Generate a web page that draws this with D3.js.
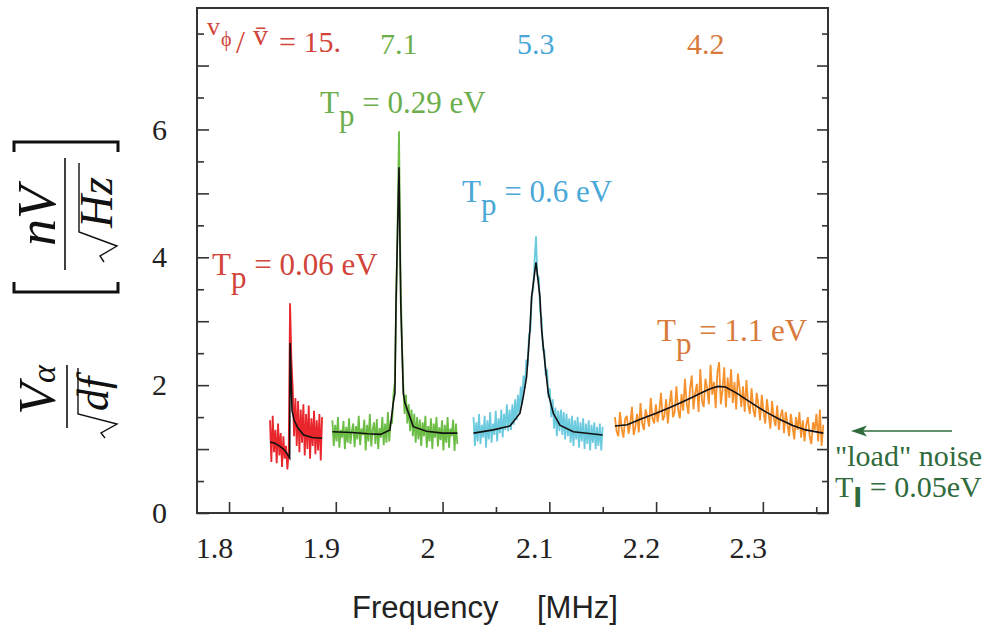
<!DOCTYPE html>
<html>
<head>
<meta charset="utf-8">
<script src="https://cdn.jsdelivr.net/npm/d3@7"></script>
<style>
  body { margin: 0; background: #fff; }
  svg text { font-family: "Liberation Serif", "Times New Roman", serif; white-space: pre; }
</style>
</head>
<body>
<div id="chart-container"></div>
<script>
// ---- values ----
var xMajorTicks = [1.8, 1.9, 2.0, 2.1, 2.2, 2.3];
var xTickLabels = ["1.8", "1.9", "2", "2.1", "2.2", "2.3"];
var xMinorTicks = [1.85, 1.95, 2.05, 2.15, 2.25, 2.35];
var yMajorTicks = [0, 1, 2, 3, 4, 5, 6, 7];
var yTickLabels = ["0", "", "2", "", "4", "", "6", ""];
var yMinorTicks = [0.5, 1.5, 2.5, 3.5, 4.5, 5.5, 6.5, 7.5];

// measured spectra: first frequency [MHz], bin width [MHz], amplitudes [nV/sqrt(Hz)]
var redStart = 1.8384, redStep = 0.00125;
var redNoise = [1.45,0.80,1.52,0.95,1.30,0.78,1.40,0.90,1.25,0.72,1.20,0.85,1.05,0.68,0.95,3.28,2.40,1.95,1.20,1.80,
                1.05,1.75,0.95,1.62,1.10,1.70,0.90,1.55,1.00,1.68,0.85,1.48,1.05,1.60,0.92,1.45,0.98,1.55,0.82,1.50];

var greenStart = 1.8968, greenStep = 0.0013;
var greenNoise = [1.45,1.05,1.38,1.12,1.50,1.02,1.30,1.18,1.44,1.00,1.35,1.10,1.48,1.08,1.28,1.40,1.03,1.36,1.15,1.52,
                  1.06,1.32,1.22,1.46,0.98,1.38,1.12,1.55,1.04,1.30,1.42,1.08,1.47,1.00,1.33,1.18,1.50,1.06,1.40,1.10,
                  1.58,1.12,1.44,1.40,1.85,2.05,3.30,4.60,5.97,3.90,2.75,2.05,1.55,1.85,1.40,1.70,1.28,1.62,1.20,1.55,
                  1.10,1.50,1.15,1.46,1.05,1.42,1.20,1.52,1.02,1.36,1.12,1.48,1.00,1.40,1.18,1.50,1.04,1.34,1.14,1.45,
                  0.98,1.38,1.10,1.50,1.02,1.32,1.20,1.46,0.97,1.40,1.08];

var cyanStart = 2.0290, cyanStep = 0.0013;
var cyanNoise = [1.50,1.05,1.42,1.12,1.55,1.08,1.38,1.18,1.52,1.02,1.45,1.15,1.58,1.10,1.40,1.22,1.60,1.12,1.48,1.25,
                 1.62,1.18,1.55,1.30,1.70,1.28,1.62,1.30,1.70,1.38,1.78,1.45,1.85,1.55,1.98,1.70,2.15,1.95,2.40,2.30,
                 2.80,2.85,3.40,3.50,3.95,4.33,3.70,3.70,3.15,3.05,2.55,2.55,2.15,2.25,1.80,1.95,1.50,1.78,1.32,1.65,
                 1.20,1.60,1.28,1.62,1.22,1.58,1.15,1.55,1.20,1.48,1.10,1.52,1.05,1.45,1.15,1.50,1.02,1.42,1.12,1.48,
                 1.00,1.40,1.08,1.45,0.98,1.38,1.10,1.42,1.00,1.35,1.05,1.40,0.98,1.35];

var orangeStart = 2.1614, orangeStep = 0.0016;
var orangeNoise = [1.50,1.28,1.20,1.58,1.32,1.18,1.47,1.52,1.24,1.40,1.66,1.22,1.35,1.55,1.26,1.72,1.40,1.30,1.62,1.50,
                   1.35,1.80,1.48,1.40,1.70,1.42,1.60,1.88,1.45,1.52,1.78,1.40,1.70,1.92,1.50,1.58,1.98,1.62,1.48,1.86,
                   1.60,2.10,1.72,1.55,1.95,2.15,1.62,1.88,2.02,1.58,2.25,1.75,1.66,2.10,1.95,1.70,2.32,1.85,2.05,1.64,
                   2.20,2.36,1.70,1.92,2.28,1.65,2.12,1.80,2.25,1.72,2.05,1.62,2.18,1.95,1.66,1.98,1.58,2.08,1.70,1.55,
                   1.95,1.62,1.50,1.88,1.70,1.45,1.85,1.58,1.40,1.78,1.55,1.32,1.75,1.48,1.36,1.68,1.30,1.52,1.62,1.25,
                   1.58,1.40,1.20,1.55,1.35,1.15,1.50,1.30,1.58,1.18,1.45,1.12,1.38,1.50,1.20,1.08,1.42,1.30,1.55,1.12,
                   1.62,1.05,1.38];

// fitted curves (black)
var redFitFreq = [1.8384,1.843,1.847,1.851,1.854,1.856,1.8568,1.8572,1.858,1.859,1.861,1.8645,1.870,1.878,1.8871];
var redFitValue = [1.11,1.09,1.05,1.00,0.94,0.88,0.86,2.66,2.20,1.60,1.45,1.33,1.22,1.18,1.17];
var greenFitFreq = [1.8968,1.915,1.930,1.942,1.9507,1.9538,1.9554,1.9564,1.9592,1.9608,1.9632,1.9648,1.9726,1.985,2.000,2.0138];
var greenFitValue = [1.27,1.26,1.24,1.23,1.30,1.72,1.88,3.30,5.41,3.30,1.88,1.72,1.35,1.28,1.25,1.25];
var cyanFitFreq = [2.0290,2.0475,2.0631,2.0725,2.0756,2.0787,2.0818,2.0834,2.0875,2.0912,2.0928,2.0959,2.0990,2.1037,2.1099,2.1224,2.1499];
var cyanFitValue = [1.25,1.30,1.36,1.56,1.82,2.13,2.86,3.38,3.92,3.38,2.86,2.34,1.87,1.56,1.375,1.27,1.22];
var orangeFitFreq = [2.1614,2.173,2.187,2.200,2.213,2.225,2.234,2.245,2.252,2.258,2.265,2.275,2.285,2.295,2.304,2.315,2.328,2.340,2.3566];
var orangeFitValue = [1.36,1.38,1.48,1.56,1.65,1.74,1.81,1.90,1.95,1.98,1.97,1.88,1.77,1.66,1.57,1.47,1.37,1.30,1.25];

// ---- chart ----
var margin = {top: 8, left: 197},
    width = 631,
    height = 505;

var svg = d3.select("#chart-container")
    .append("svg")
    .attr("width", 997)
    .attr("height", 630);

var plot = svg.append("g")
    .attr("transform", "translate(" + margin.left + "," + margin.top + ")");

var xScale = d3.scaleLinear().domain([1.770, 2.361]).range([0, width]);
var yScale = d3.scaleLinear().domain([0, 7.9]).range([height, 0]);

var segments = [
    {start: redStart, step: redStep, noise: redNoise, fitF: redFitFreq, fitV: redFitValue, color: "#e8262b"},
    {start: greenStart, step: greenStep, noise: greenNoise, fitF: greenFitFreq, fitV: greenFitValue, color: "#6cbd45"},
    {start: cyanStart, step: cyanStep, noise: cyanNoise, fitF: cyanFitFreq, fitV: cyanFitValue, color: "#6ccadf"},
    {start: orangeStart, step: orangeStep, noise: orangeNoise, fitF: orangeFitFreq, fitV: orangeFitValue, color: "#f6922e"}
];

var linesGroup = plot.append("g");

// noisy measured spectra
segments.forEach(function(s) {
    var noiseLine = d3.line()
        .x(function(d, i) { return xScale(s.start + i * s.step); })
        .y(function(d) { return yScale(d); });
    linesGroup.append("path")
        .datum(s.noise)
        .attr("fill", "none")
        .attr("stroke", s.color)
        .attr("stroke-width", 1.8)
        .attr("stroke-linejoin", "bevel")
        .attr("d", noiseLine);
});

// fits on top
segments.forEach(function(s) {
    var fitLine = d3.line()
        .x(function(d, i) { return xScale(s.fitF[i]); })
        .y(function(d) { return yScale(d); });
    linesGroup.append("path")
        .datum(s.fitV)
        .attr("fill", "none")
        .attr("stroke", "#111")
        .attr("stroke-width", 1.6)
        .attr("d", fitLine);
});

// axes, ticks pointing inward
function styleAxis(g) {
    g.select(".domain").remove();
    g.selectAll(".tick line").attr("stroke", "#333").attr("stroke-width", 1.6);
    g.selectAll(".tick text").attr("fill", "#222").style("font-size", "30px")
        .style("font-family", "'Liberation Serif', 'Times New Roman', serif");
}

plot.append("g")
    .attr("transform", "translate(0," + height + ")")
    .call(d3.axisBottom(xScale).tickValues(xMajorTicks).tickSize(-11).tickPadding(24)
        .tickFormat(function(d, i) { return xTickLabels[i]; }))
    .call(styleAxis)
    .selectAll(".tick text").attr("dx", -15);

plot.append("g")
    .attr("transform", "translate(0," + height + ")")
    .call(d3.axisBottom(xScale).tickValues(xMinorTicks).tickSize(-6).tickFormat(""))
    .call(styleAxis);

plot.append("g")
    .call(d3.axisLeft(yScale).tickValues(yMajorTicks).tickSize(-12).tickPadding(30)
        .tickFormat(function(d, i) { return yTickLabels[i]; }))
    .call(styleAxis);

plot.append("g")
    .call(d3.axisLeft(yScale).tickValues(yMinorTicks).tickSize(-7).tickFormat(""))
    .call(styleAxis);

plot.append("g")
    .attr("transform", "translate(" + width + ",0)")
    .call(d3.axisRight(yScale).tickValues(yMajorTicks).tickSize(-11).tickFormat(""))
    .call(styleAxis);

plot.append("g")
    .attr("transform", "translate(" + width + ",0)")
    .call(d3.axisRight(yScale).tickValues(yMinorTicks).tickSize(-6).tickFormat(""))
    .call(styleAxis);

// frame
plot.append("rect")
    .attr("width", width)
    .attr("height", height)
    .attr("fill", "none")
    .attr("stroke", "#333")
    .attr("stroke-width", 2);

// x axis title
svg.append("text")
    .attr("x", 352).attr("y", 618)
    .style("font-family", "'Liberation Sans', Arial, sans-serif")
    .style("font-size", "31px").attr("fill", "#222")
    .text("Frequency");
svg.append("text")
    .attr("x", 537).attr("y", 618)
    .style("font-family", "'Liberation Sans', Arial, sans-serif")
    .style("font-size", "31px").attr("fill", "#222")
    .text("[MHz]");

// y axis title, drawn rotated: V_alpha / sqrt(df)  [ nV / sqrt(Hz) ]
var yLab = svg.append("g").attr("transform", "rotate(-90)");
var ink = "#111";

var va = yLab.append("text").attr("x", -390).attr("y", 55).attr("text-anchor", "middle")
    .attr("fill", ink).style("font-style", "italic").style("font-size", "52px");
va.append("tspan").text("V");
va.append("tspan").style("font-size", "34px").text("α");
yLab.append("line").attr("x1", -428).attr("x2", -365).attr("y1", 67).attr("y2", 67)
    .attr("stroke", ink).attr("stroke-width", 1.6);
yLab.append("path").attr("d", "M-438,105 L-433,101 L-424,117 L-414,78 L-368,78")
    .attr("fill", "none").attr("stroke", ink).attr("stroke-width", 1.4);
yLab.append("text").attr("x", -411).attr("y", 108)
    .attr("fill", ink).style("font-style", "italic").style("font-size", "44px").text("df");

yLab.append("text").attr("x", -216).attr("y", 55).attr("text-anchor", "middle")
    .attr("fill", ink).style("font-style", "italic").style("font-size", "54px").text("nV");
yLab.append("line").attr("x1", -270).attr("x2", -158).attr("y1", 65).attr("y2", 65)
    .attr("stroke", ink).attr("stroke-width", 1.6);
yLab.append("path").attr("d", "M-262,104 L-256,100 L-246,117 L-232,79 L-163,79")
    .attr("fill", "none").attr("stroke", ink).attr("stroke-width", 1.4);
yLab.append("text").attr("x", -228).attr("y", 112)
    .attr("fill", ink).style("font-style", "italic").style("font-size", "46px").text("Hz");
yLab.append("path").attr("d", "M-282,14 L-292,14 L-292,118 L-282,118")
    .attr("fill", "none").attr("stroke", ink).attr("stroke-width", 3);
yLab.append("path").attr("d", "M-152,14 L-142,14 L-142,118 L-152,118")
    .attr("fill", "none").attr("stroke", ink).attr("stroke-width", 3);

// annotations
var redText = "#d2443a", greenText = "#6cae4c", cyanText = "#4aa8d8", orangeText = "#d77a3b", loadText = "#2f6b3c";

function tLabel(x, y, color, rest) {
    var t = svg.append("text").attr("x", x).attr("y", y).attr("fill", color).style("font-size", "31px");
    t.append("tspan").text("T");
    t.append("tspan").attr("dy", 13).text("p");
    t.append("tspan").attr("dy", -13).text(" = " + rest);
}
tLabel(320, 113, greenText, "0.29 eV");
tLabel(462, 202, cyanText, "0.6 eV");
tLabel(212, 275, redText, "0.06 eV");
tLabel(657, 341, orangeText, "1.1 eV");

svg.append("text").attr("x", 207).attr("y", 35).attr("fill", redText).style("font-size", "26px").text("v");
svg.append("text").attr("x", 221).attr("y", 46).attr("fill", redText).style("font-size", "20px").text("\u03d5");
svg.append("text").attr("x", 236).attr("y", 53).attr("fill", redText).style("font-size", "32px").text("/");
svg.append("text").attr("x", 253).attr("y", 45).attr("fill", redText).style("font-size", "30px").text("v\u0304");
svg.append("text").attr("x", 279).attr("y", 52).attr("fill", redText).style("font-size", "30px").text("= 15.");

svg.append("text").attr("x", 380).attr("y", 54).attr("fill", greenText).style("font-size", "30px").text("7.1");
svg.append("text").attr("x", 517).attr("y", 54).attr("fill", cyanText).style("font-size", "30px").text("5.3");
svg.append("text").attr("x", 687).attr("y", 54).attr("fill", orangeText).style("font-size", "30px").text("4.2");

// load noise marker
svg.append("line").attr("x1", 862).attr("x2", 952).attr("y1", 431).attr("y2", 431)
    .attr("stroke", loadText).attr("stroke-width", 1.5);
svg.append("path").attr("d", "M851,431 L867,425.5 L863,431 L867,436.5 Z").attr("fill", loadText);
svg.append("text").attr("x", 835).attr("y", 466).attr("fill", loadText).style("font-size", "30px")
    .text("\"load\" noise");
var tl = svg.append("text").attr("x", 835).attr("y", 497).attr("fill", loadText).style("font-size", "30px");
tl.append("tspan").text("T");
tl.append("tspan").attr("dy", 10).style("font-family", "'DejaVu Sans', sans-serif")
    .style("font-weight", "bold").style("font-size", "26px").text("l");
tl.append("tspan").attr("dy", -10).text(" = 0.05eV");
</script>
</body>
</html>
